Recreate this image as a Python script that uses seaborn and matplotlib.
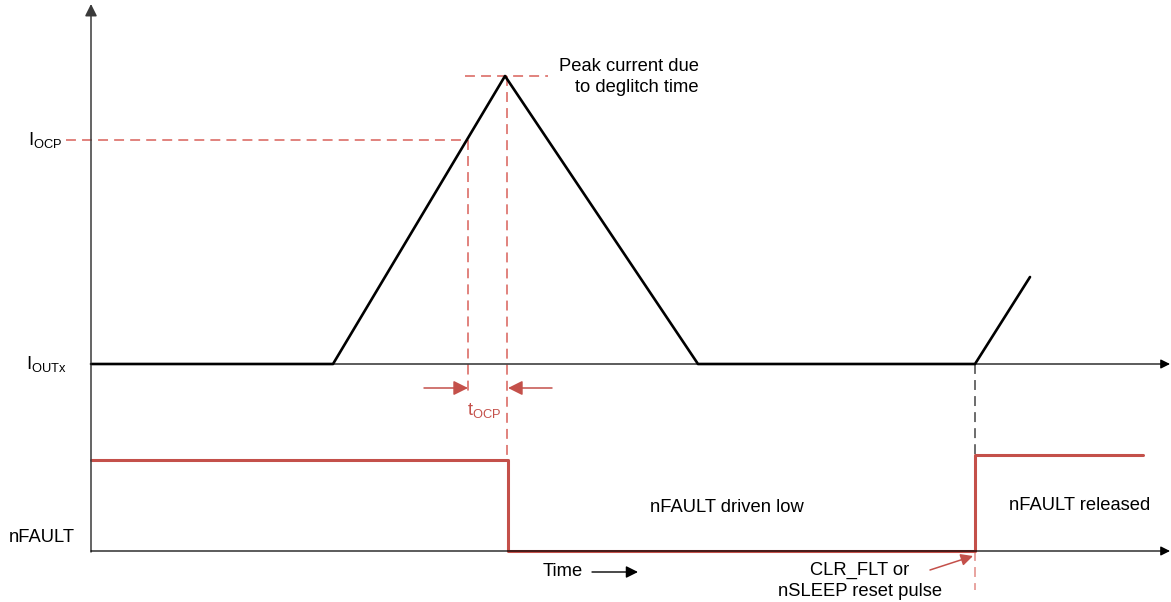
import numpy as np
import pandas as pd
import matplotlib.pyplot as plt
import seaborn as sns

sns.set_theme(style="white")
plt.rcParams["font.family"] = ["Liberation Sans", "DejaVu Sans"]
plt.rcParams["mathtext.fontset"] = "custom"
plt.rcParams["mathtext.rm"] = "Liberation Sans"
plt.rcParams["text.color"] = "black"

# waveform data (time axis in diagram units, level axis upward)
current_t = [91, 333, 505, 698, 975, 1030]
current_lvl = [238, 238, 526, 238, 238, 325]

nfault_t = [91, 508, 508, 975, 975, 1143]
nfault_lvl = [142, 142, 51, 51, 147, 147]

iout_base = 238
iocp_level = 462
peak_level = 526
nfault_base = 51
t_origin = 91
t_ocp = 468
t_peak = 507
t_reset = 975
t_end = 1171

red = "#c4504a"
red_dash = "#d9615a"
fs = 13.2

fig = plt.figure(figsize=(11.71, 6.02), dpi=100)
ax = fig.add_axes([0, 0, 1, 1])
ax.set_xlim(0, 1171)
ax.set_ylim(0, 602)
ax.axis("off")

# axes with arrows
ax.annotate("", xy=(t_origin, 598), xytext=(t_origin, nfault_base - 1),
            arrowprops=dict(arrowstyle="-|>", color="#3a3a3a", lw=1.1,
                            mutation_scale=18, shrinkA=0, shrinkB=0))
for yb in [iout_base, nfault_base]:
    ax.annotate("", xy=(t_end - 1, yb), xytext=(t_origin, yb),
                arrowprops=dict(arrowstyle="-|>", color="black", lw=0.9,
                                mutation_scale=14, shrinkA=0, shrinkB=0))

# dashed guides
dash = (0, (6.5, 4))
ax.plot([66, t_ocp], [iocp_level, iocp_level], color=red_dash, lw=1.1, ls=dash)
ax.plot([t_ocp, t_ocp], [iocp_level, 208], color=red_dash, lw=1.1, ls=dash)
ax.plot([465, 548], [peak_level, peak_level], color=red_dash, lw=1.1, ls=dash)
ax.plot([t_peak, t_peak], [peak_level, nfault_lvl[0]], color=red_dash, lw=1.1, ls=dash)
ax.plot([t_reset, t_reset], [iout_base, nfault_lvl[-1]], color="#444444", lw=1.1, ls=dash)
ax.plot([t_reset, t_reset], [nfault_base, 12], color="#e28a85", lw=1.1, ls=dash)

# waveforms
sns.lineplot(x=current_t, y=current_lvl, sort=False, estimator=None,
             color="black", lw=1.9, ax=ax)
sns.lineplot(x=nfault_t, y=nfault_lvl, sort=False, estimator=None,
             color=red, lw=2.2, ax=ax)

# tOCP arrows
ax.annotate("", xy=(t_ocp, 214), xytext=(424, 214),
            arrowprops=dict(arrowstyle="-|>", color=red, lw=1.1,
                            mutation_scale=22, shrinkA=0, shrinkB=0))
ax.annotate("", xy=(t_peak + 1, 214), xytext=(552, 214),
            arrowprops=dict(arrowstyle="-|>", color=red, lw=1.1,
                            mutation_scale=22, shrinkA=0, shrinkB=0))
ax.text(484, 191, r"t$_\mathrm{OCP}$", color=red, fontsize=fs,
        ha="center", va="center")

# time arrow
ax.text(543, 30, "Time", fontsize=fs, ha="left", va="center")
ax.annotate("", xy=(638, 30), xytext=(592, 30),
            arrowprops=dict(arrowstyle="-|>", color="black", lw=1.0,
                            mutation_scale=18, shrinkA=0, shrinkB=0))

# reset pulse annotation
ax.annotate("", xy=(973, 46), xytext=(930, 32),
            arrowprops=dict(arrowstyle="-|>", color=red, lw=1.1,
                            mutation_scale=18, shrinkA=0, shrinkB=0))
ax.text(860, 21, "CLR_FLT or\nnSLEEP reset pulse", fontsize=fs,
        ha="center", va="center", linespacing=1.27)

# labels
ax.text(699, 525, "Peak current due\nto deglitch time", fontsize=fs,
        ha="right", va="center", linespacing=1.27)
ax.text(727, 95, "nFAULT driven low", fontsize=fs, ha="center", va="center")
ax.text(1080, 97, "nFAULT released", fontsize=fs, ha="center", va="center")
ax.text(9, 65, "nFAULT", fontsize=fs, ha="left", va="center")
ax.text(28, iocp_level, r"I$_\mathrm{OCP}$", fontsize=fs, ha="left", va="center")
ax.text(26, iout_base, r"I$_\mathrm{OUTx}$", fontsize=fs, ha="left", va="center")

fig.savefig("out.png", dpi=100)
